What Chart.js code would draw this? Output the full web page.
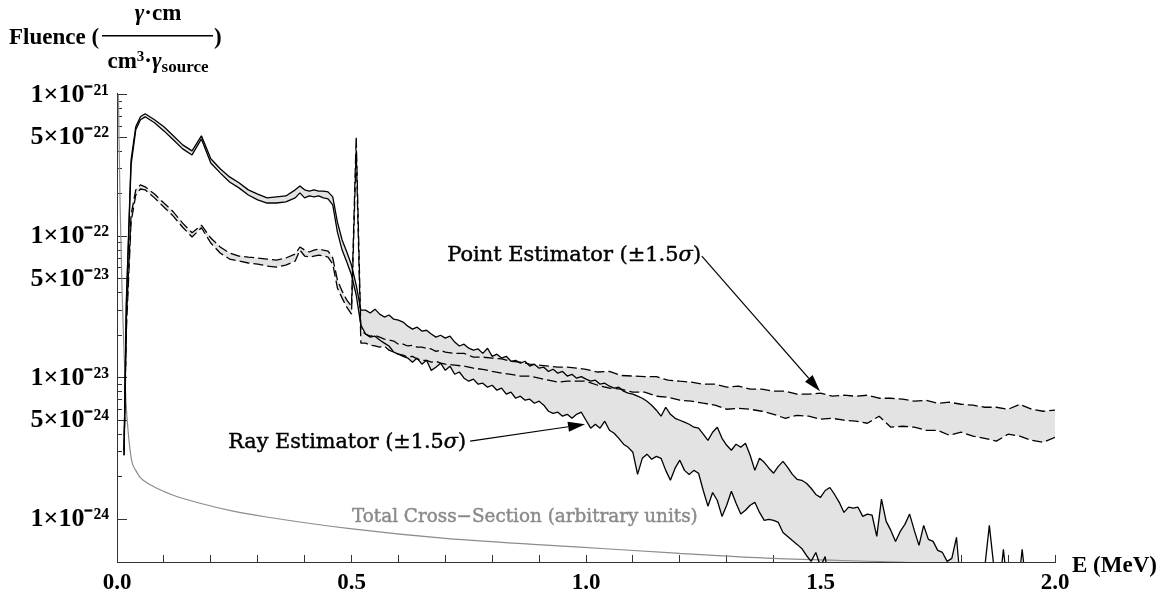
<!DOCTYPE html>
<html>
<head>
<meta charset="utf-8">
<title>Fluence spectrum</title>
<script src="https://cdn.jsdelivr.net/npm/chart.js@4.4.0/dist/chart.umd.min.js"></script>
<style>
  html, body { margin: 0; padding: 0; background: #fff; }
  canvas { display: block; }
</style>
</head>
<body>
<canvas id="chart" width="1169" height="598"></canvas>
<script>
// Photon fluence vs energy: ray and point estimators (±1.5σ bands) plus a scaled
// total cross-section curve. Log y axis, linear x axis.

const X_MIN = 0, X_MAX = 2.0;
const Y_MIN = 5e-25, Y_MAX = 1.03e-21;

// --- Axis ticks ---
const xTickValues = [0, 0.1, 0.2, 0.3, 0.4, 0.5, 0.6, 0.7, 0.8, 0.9, 1.0,
  1.1, 1.2, 1.3, 1.4, 1.5, 1.6, 1.7, 1.8, 1.9, 2.0];
const xTickLabels = ['0.0', '', '', '', '', '0.5', '', '', '', '', '1.0',
  '', '', '', '', '1.5', '', '', '', '', '2.0'];

const yTickValues = [1e-24, 2e-24, 3e-24, 4e-24, 5e-24, 6e-24, 7e-24, 8e-24, 9e-24,
  1e-23, 2e-23, 3e-23, 4e-23, 5e-23, 6e-23, 7e-23, 8e-23, 9e-23,
  1e-22, 2e-22, 3e-22, 4e-22, 5e-22, 6e-22, 7e-22, 8e-22, 9e-22, 1e-21];
const yLabelValues = [1e-24, 5e-24, 1e-23, 5e-23, 1e-22, 5e-22, 1e-21];
const yTickLabels = ['1×10⁻²⁴', '5×10⁻²⁴', '1×10⁻²³', '5×10⁻²³', '1×10⁻²²', '5×10⁻²²', '1×10⁻²¹'];

// --- Ray estimator band (MeV, fluence) ---
const rayE = [0.015, 0.02, 0.03, 0.04, 0.05, 0.06, 0.08, 0.10, 0.12, 0.14, 0.16, 0.18, 0.20,
  0.22, 0.24, 0.26, 0.28, 0.30, 0.32, 0.34, 0.36, 0.38, 0.39,
  0.40, 0.41, 0.42, 0.43, 0.44, 0.45, 0.46, 0.47, 0.48, 0.49,
  0.50, 0.51, 0.52, 0.53, 0.54, 0.55, 0.56, 0.57, 0.58, 0.59,
  0.60, 0.61, 0.62, 0.63, 0.64, 0.65, 0.66, 0.67, 0.68, 0.69,
  0.70, 0.71, 0.72, 0.73, 0.74, 0.75, 0.76, 0.77, 0.78, 0.79,
  0.80, 0.81, 0.82, 0.83, 0.84, 0.85, 0.86, 0.87, 0.88, 0.89,
  0.90, 0.91, 0.92, 0.93, 0.94, 0.95, 0.96, 0.97, 0.98, 0.99,
  1.00, 1.01, 1.02, 1.03, 1.04, 1.05, 1.06, 1.07, 1.08, 1.09,
  1.10, 1.11, 1.12, 1.13, 1.14, 1.15, 1.16, 1.17, 1.18, 1.19,
  1.20, 1.21, 1.22, 1.23, 1.24, 1.25, 1.26, 1.27, 1.28, 1.29,
  1.30, 1.31, 1.32, 1.33, 1.34, 1.35, 1.36, 1.37, 1.38, 1.39,
  1.40, 1.41, 1.42, 1.43, 1.44, 1.45, 1.46, 1.47, 1.48, 1.49,
  1.50, 1.51, 1.52, 1.53, 1.54, 1.55, 1.56, 1.57, 1.58, 1.59,
  1.60, 1.61, 1.62, 1.63, 1.64, 1.65, 1.66, 1.67, 1.68, 1.69,
  1.70, 1.71, 1.72, 1.73, 1.74, 1.75, 1.76, 1.77, 1.78, 1.79,
  1.80, 1.81, 1.82, 1.83, 1.84, 1.85, 1.86, 1.87, 1.88, 1.89,
  1.90, 1.91, 1.92, 1.93, 1.94, 1.95, 1.96, 1.97, 1.98, 1.99, 2.00];

const rayUpper = [3.08e-24, 3.54e-23, 3.47e-22, 5.94e-22, 6.99e-22, 7.34e-22, 6.66e-22, 5.94e-22,
  5.13e-22, 4.43e-22, 4.02e-22, 5.13e-22, 3.53e-22, 3.00e-22, 2.63e-22, 2.39e-22, 2.13e-22,
  1.99e-22, 1.87e-22, 1.90e-22, 1.93e-22, 2.13e-22, 2.27e-22,
  2.13e-22, 2.09e-22, 2.13e-22, 2.09e-22, 2.09e-22, 2.06e-22, 1.90e-22, 1.26e-22, 9.42e-23, 7.75e-23,
  6.27e-23, 4.52e-23, 3.01e-23, 3.01e-23, 2.87e-23, 3.06e-23, 2.82e-23, 2.69e-23, 2.78e-23, 2.60e-23,
  2.56e-23, 2.48e-23, 2.32e-23, 2.21e-23, 2.28e-23, 2.14e-23, 2.17e-23, 2.04e-23, 1.94e-23, 2.00e-23,
  1.91e-23, 1.97e-23, 1.79e-23, 1.68e-23, 1.73e-23, 1.62e-23, 1.57e-23, 1.60e-23, 1.49e-23, 1.62e-23,
  1.42e-23, 1.47e-23, 1.38e-23, 1.42e-23, 1.31e-23, 1.33e-23, 1.27e-23, 1.31e-23, 1.21e-23, 1.25e-23,
  1.17e-23, 1.19e-23, 1.11e-23, 1.15e-23, 1.08e-23, 1.11e-23, 1.03e-23, 1.06e-23, 9.95e-24, 1.02e-23,
  9.79e-24, 9.47e-24, 9.63e-24, 9.02e-24, 9.17e-24, 8.73e-24, 8.45e-24, 8.59e-24, 8.05e-24, 7.79e-24,
  7.67e-24, 7.42e-24, 7.18e-24, 6.84e-24, 6.41e-24, 5.91e-24, 5.36e-24, 6.20e-24, 5.53e-24, 5.18e-24,
  5.02e-24, 4.86e-24, 4.70e-24, 4.48e-24, 4.41e-24, 4.00e-24, 3.62e-24, 4.13e-24, 4.48e-24, 3.74e-24,
  3.34e-24, 3.08e-24, 3.40e-24, 3.23e-24, 3.45e-24, 2.84e-24, 2.22e-24, 2.70e-24, 2.53e-24, 2.30e-24,
  2.12e-24, 2.37e-24, 2.57e-24, 2.33e-24, 2.08e-24, 1.92e-24, 1.89e-24, 1.80e-24, 1.66e-24, 1.50e-24,
  1.43e-24, 1.60e-24, 1.68e-24, 1.50e-24, 1.32e-24, 1.12e-24, 1.22e-24, 1.20e-24, 1.22e-24, 1.05e-24,
  1.09e-24, 1.07e-24, 7.58e-25, 1.39e-24, 9.68e-25, 8.36e-25, 6.99e-25, 8.22e-25, 9.22e-25, 1.09e-24,
  8.36e-25, 6.55e-25, 9.07e-25, 7.22e-25, 6.99e-25, 6.04e-25, 5.84e-25, 5.05e-25, 5.30e-25, 7.46e-25,
  3e-25, 3e-25, 3e-25, 3e-25, 3e-25, 4.5e-25, 9.07e-25, 4.5e-25, 3e-25, 6.14e-25,
  3e-25, 3e-25, 3e-25, 6.14e-25, 3e-25, 3e-25, 3e-25, 3e-25, 3e-25, 3e-25, 3e-25];

const rayLower = [2.84e-24, 3.27e-23, 3.20e-22, 5.66e-22, 6.66e-22, 6.99e-22, 6.34e-22, 5.56e-22,
  4.81e-22, 4.15e-22, 3.76e-22, 4.88e-22, 3.30e-22, 2.81e-22, 2.42e-22, 2.20e-22, 1.96e-22,
  1.81e-22, 1.72e-22, 1.72e-22, 1.75e-22, 1.87e-22, 2.03e-22,
  1.87e-22, 1.93e-22, 1.90e-22, 1.93e-22, 1.87e-22, 1.84e-22, 1.67e-22, 1.07e-22, 8.00e-23, 6.59e-23,
  5.33e-23, 3.85e-23, 2.36e-23, 2.04e-23, 1.94e-23, 1.97e-23, 1.85e-23, 1.76e-23, 1.68e-23, 1.52e-23,
  1.47e-23, 1.42e-23, 1.38e-23, 1.29e-23, 1.38e-23, 1.25e-23, 1.33e-23, 1.13e-23, 1.19e-23, 1.27e-23,
  1.13e-23, 1.21e-23, 1.06e-23, 1.10e-23, 9.95e-24, 9.47e-24, 9.79e-24, 9.02e-24, 9.17e-24, 8.59e-24,
  8.87e-24, 8.18e-24, 8.45e-24, 7.67e-24, 7.92e-24, 7.18e-24, 7.42e-24, 6.95e-24, 7.07e-24, 6.62e-24,
  6.84e-24, 6.41e-24, 5.81e-24, 5.62e-24, 5.72e-24, 5.36e-24, 5.53e-24, 5.18e-24, 5.53e-24, 5.72e-24,
  5.02e-24, 4.41e-24, 4.70e-24, 4.41e-24, 4.94e-24, 4.26e-24, 4.06e-24, 3.74e-24, 3.40e-24, 3.23e-24,
  2.98e-24, 2.08e-24, 2.70e-24, 2.89e-24, 2.66e-24, 2.79e-24, 2.70e-24, 2.22e-24, 1.89e-24, 2.30e-24,
  2.62e-24, 2.22e-24, 2.08e-24, 2.22e-24, 2.12e-24, 1.60e-24, 1.24e-24, 1.55e-24, 1.36e-24, 1.05e-24,
  1.26e-24, 1.58e-24, 1.30e-24, 1.09e-24, 1.16e-24, 1.26e-24, 1.32e-24, 1.12e-24, 9.84e-25, 1.00e-24,
  9.84e-25, 9.52e-25, 8.09e-25, 7.58e-25, 7.10e-25, 6.66e-25, 6.24e-25, 5.56e-25, 5.05e-25, 5.84e-25,
  4.65e-25, 5.47e-25, 3e-25, 3e-25, 3e-25, 3e-25, 3e-25, 3e-25, 3e-25, 3e-25,
  3e-25, 3e-25, 3e-25, 3e-25, 3e-25, 3e-25, 3e-25, 3e-25, 3e-25, 3e-25,
  3e-25, 3e-25, 3e-25, 3e-25, 3e-25, 3e-25, 3e-25, 3e-25, 3e-25, 3e-25,
  null, null, null, null, null, null, null, null, null, null,
  null, null, null, null, null, null, null, null, null, null, null];

// --- Point estimator band ---
const ptE = [0.015, 0.02, 0.03, 0.04, 0.05, 0.06, 0.08, 0.10, 0.12, 0.14, 0.16, 0.18, 0.20,
  0.22, 0.24, 0.26, 0.28, 0.30, 0.32, 0.34, 0.36, 0.38, 0.39,
  0.40, 0.41, 0.42, 0.43, 0.44, 0.45, 0.46, 0.47, 0.48, 0.49,
  0.50, 0.51, 0.52, 0.53, 0.54, 0.55, 0.56, 0.57, 0.58, 0.59,
  0.60, 0.61, 0.62, 0.63, 0.64, 0.65, 0.66, 0.67, 0.68, 0.69,
  0.70, 0.72, 0.74, 0.76, 0.78, 0.80, 0.82, 0.84, 0.86, 0.88,
  0.90, 0.92, 0.94, 0.96, 0.98, 1.00, 1.025, 1.05, 1.075, 1.10,
  1.125, 1.15, 1.175, 1.20, 1.225, 1.25, 1.275, 1.30, 1.325, 1.35,
  1.375, 1.40, 1.425, 1.45, 1.475, 1.50, 1.525, 1.55, 1.575, 1.60,
  1.625, 1.65, 1.675, 1.70, 1.725, 1.75, 1.775, 1.80, 1.825, 1.85,
  1.875, 1.90, 1.925, 1.95, 1.975, 2.00];

const ptUpper = [3.08e-24, 2.56e-23, 1.42e-22, 2.13e-22, 2.31e-22, 2.24e-22, 1.99e-22, 1.72e-22,
  1.49e-22, 1.24e-22, 1.06e-22, 1.20e-22, 9.73e-23, 8.41e-23, 7.62e-23, 7.26e-23, 7.14e-23,
  7.03e-23, 6.91e-23, 6.80e-23, 7.03e-23, 7.50e-23, 8.41e-23,
  8.00e-23, 7.75e-23, 8.00e-23, 8.14e-23, 8.00e-23, 7.87e-23, 7.03e-23, 4.91e-23, 4.10e-23, 3.54e-23,
  3.21e-23, 5.05e-22, 2.17e-23, 2.04e-23, 1.97e-23, 2.00e-23, 1.94e-23, 1.88e-23, 1.85e-23, 1.82e-23,
  1.73e-23, 1.73e-23, 1.68e-23, 1.70e-23, 1.65e-23, 1.65e-23, 1.62e-23, 1.60e-23, 1.54e-23, 1.57e-23,
  1.52e-23, 1.49e-23, 1.49e-23, 1.40e-23, 1.40e-23, 1.38e-23, 1.36e-23, 1.31e-23, 1.29e-23, 1.25e-23,
  1.23e-23, 1.21e-23, 1.19e-23, 1.19e-23, 1.17e-23, 1.15e-23, 1.10e-23, 1.11e-23, 1.04e-23, 1.03e-23,
  1.02e-23, 1.02e-23, 9.63e-24, 9.47e-24, 9.32e-24, 9.02e-24, 9.02e-24, 8.59e-24, 8.73e-24, 8.32e-24,
  8.32e-24, 8.05e-24, 8.05e-24, 7.67e-24, 7.67e-24, 7.79e-24, 7.42e-24, 7.54e-24, 7.42e-24, 7.54e-24,
  7.18e-24, 7.18e-24, 7.07e-24, 6.84e-24, 6.95e-24, 6.62e-24, 6.73e-24, 6.51e-24, 6.41e-24, 6.20e-24,
  6.20e-24, 6.00e-24, 6.51e-24, 6.00e-24, 5.81e-24, 5.91e-24];

const ptLower = [2.84e-24, 2.17e-23, 1.26e-22, 1.96e-22, 2.16e-22, 2.13e-22, 1.87e-22, 1.61e-22,
  1.39e-22, 1.16e-22, 9.89e-23, 1.15e-22, 8.97e-23, 7.62e-23, 6.91e-23, 6.69e-23, 6.48e-23,
  6.37e-23, 6.17e-23, 6.07e-23, 6.27e-23, 6.69e-23, 8.00e-23,
  7.26e-23, 7.14e-23, 7.26e-23, 7.38e-23, 7.26e-23, 7.14e-23, 6.37e-23, 4.31e-23, 3.66e-23, 3.16e-23,
  2.82e-23, 4.08e-22, 1.76e-23, 1.76e-23, 1.70e-23, 1.68e-23, 1.65e-23, 1.68e-23, 1.57e-23, 1.52e-23,
  1.47e-23, 1.45e-23, 1.40e-23, 1.42e-23, 1.36e-23, 1.33e-23, 1.33e-23, 1.29e-23, 1.31e-23, 1.27e-23,
  1.25e-23, 1.23e-23, 1.21e-23, 1.17e-23, 1.15e-23, 1.11e-23, 1.08e-23, 1.06e-23, 1.03e-23, 1.03e-23,
  9.95e-24, 9.63e-24, 9.32e-24, 9.47e-24, 9.47e-24, 9.47e-24, 8.87e-24, 8.45e-24, 8.32e-24, 7.92e-24,
  7.92e-24, 7.42e-24, 7.30e-24, 6.95e-24, 6.84e-24, 6.62e-24, 6.41e-24, 6.00e-24, 6.10e-24, 6.00e-24,
  5.81e-24, 5.53e-24, 5.18e-24, 5.44e-24, 5.36e-24, 5.10e-24, 5.18e-24, 5.02e-24, 4.94e-24, 4.78e-24,
  5.36e-24, 4.48e-24, 4.55e-24, 4.48e-24, 4.26e-24, 4.26e-24, 3.93e-24, 4.13e-24, 3.87e-24, 3.74e-24,
  3.57e-24, 4.00e-24, 3.87e-24, 3.62e-24, 3.51e-24, 3.80e-24];

// --- Total cross-section (arbitrary units) ---
const csE = [0.003, 0.0064, 0.0107, 0.0149, 0.019, 0.0235, 0.031, 0.04, 0.049, 0.06, 0.085,
  0.12, 0.177, 0.25, 0.319, 0.497, 0.7, 0.987, 1.2, 1.399, 1.663, 2.0];
const csValue = [1.0e-21, 1.81e-22, 4.17e-23, 1.57e-23, 6.95e-24, 4.26e-24, 2.62e-24, 2.22e-24,
  1.99e-24, 1.85e-24, 1.66e-24, 1.48e-24, 1.30e-24, 1.14e-24, 1.04e-24, 8.6e-25, 7.34e-25,
  6.37e-25, 5.75e-25, 5.30e-25, 5.0e-25, 4.5e-25];

// --- Styling ---
const SERIF = '"Liberation Serif", "Times New Roman", serif';
const NOTE_SERIF = '"DejaVu Serif", serif';
const AXIS_COLOR = '#333';
const BAND_GRAY = '#e3e3e3';

const pairs = (xs, ys) => xs.map((x, i) => ({ x, y: ys[i] }));
const isYMajor = v => yLabelValues.some(l => Math.abs(v / l - 1) < 1e-6);
function yLabelFor(v) {
  const i = yLabelValues.findIndex(l => Math.abs(v / l - 1) < 1e-6);
  return i >= 0 ? yTickLabels[i] : '';
}

// --- Annotations (anchored in data coordinates, fitted to a pixel width) ---
const notes = [
  { text: 'Point Estimator (±1.5', sigma: true, e: 0.704, f: 7.26e-23, width: 254, color: '#000' },
  { text: 'Ray Estimator (±1.5', sigma: true, e: 0.237, f: 3.51e-24, width: 238, color: '#000' },
  { text: 'Total Cross\u2212Section (arbitrary units)', sigma: false, e: 0.501, f: 1.03e-24, width: 346, color: '#8a8a8a' },
];
const arrows = [
  { from: [1.247, 7.26e-23], to: [1.499, 8.05e-24] },
  { from: [0.753, 3.57e-24], to: [0.998, 4.70e-24] },
];

function drawRuns(ctx, runs, x, y, stroke) {
  for (const [t, font, dy] of runs) {
    ctx.font = font;
    ctx.fillText(t, x, y + (dy || 0));
    if (stroke) ctx.strokeText(t, x, y + (dy || 0));
    x += ctx.measureText(t).width;
  }
  return x;
}
function runsWidth(ctx, runs) {
  let w = 0;
  for (const [t, font] of runs) { ctx.font = font; w += ctx.measureText(t).width; }
  return w;
}
function noteRuns(n, size) {
  const f = size + 'px ' + NOTE_SERIF;
  const runs = [[n.text, f]];
  if (n.sigma) runs.push(['σ', 'italic ' + f], [')', f]);
  return runs;
}

const overlay = {
  id: 'overlay',
  afterDraw(chart) {
    const { ctx } = chart;
    const x = chart.scales.x, y = chart.scales.y;
    ctx.save();
    ctx.fillStyle = '#000';
    ctx.textBaseline = 'alphabetic';

    // y-axis title with fraction
    const B = 'bold 23px ' + SERIF, BI = 'italic bold 23px ' + SERIF;
    const SUP = 'bold 15px ' + SERIF, SUB = 'bold 17px ' + SERIF;
    drawRuns(ctx, [['Fluence (', B]], 9, 44);
    const num = [['γ', BI], ['·', B], ['cm', B]];
    const den = [['cm', B], ['3', SUP, -7], ['·', B], ['γ', BI], ['source', SUB, 4]];
    const cx = 158;
    drawRuns(ctx, num, cx - runsWidth(ctx, num) / 2, 20);
    drawRuns(ctx, den, cx - runsWidth(ctx, den) / 2, 68);
    ctx.fillRect(102, 35, 111, 1.5);
    drawRuns(ctx, [[')', B]], 214, 44);

    // x-axis title
    ctx.textBaseline = 'middle';
    drawRuns(ctx, [['E (MeV)', 'bold 23px ' + SERIF]], 1072, 566);

    // notes (a hairline stroke gives the heavier look of the original face)
    const probe = 20;
    ctx.lineWidth = 0.45;
    for (const n of notes) {
      const size = probe * n.width / runsWidth(ctx, noteRuns(n, probe));
      ctx.fillStyle = n.color;
      ctx.strokeStyle = n.color;
      drawRuns(ctx, noteRuns(n, size), x.getPixelForValue(n.e), y.getPixelForValue(n.f), true);
    }

    // arrows
    ctx.strokeStyle = '#000';
    ctx.fillStyle = '#000';
    ctx.lineWidth = 1.2;
    for (const a of arrows) {
      const x0 = x.getPixelForValue(a.from[0]), y0 = y.getPixelForValue(a.from[1]);
      const x1 = x.getPixelForValue(a.to[0]), y1 = y.getPixelForValue(a.to[1]);
      const ang = Math.atan2(y1 - y0, x1 - x0);
      const L = 17, W = 5;
      const bx = x1 - L * Math.cos(ang), by = y1 - L * Math.sin(ang);
      ctx.beginPath();
      ctx.moveTo(x0, y0);
      ctx.lineTo(bx, by);
      ctx.stroke();
      ctx.beginPath();
      ctx.moveTo(x1, y1);
      ctx.lineTo(bx + W * Math.sin(ang), by - W * Math.cos(ang));
      ctx.lineTo(bx - W * Math.sin(ang), by + W * Math.cos(ang));
      ctx.closePath();
      ctx.fill();
    }
    ctx.restore();
  }
};

Chart.defaults.font.family = SERIF;
Chart.defaults.color = '#000';

const lineBase = { pointRadius: 0, borderWidth: 1.3, borderJoinStyle: 'bevel', tension: 0 };

new Chart(document.getElementById('chart'), {
  type: 'line',
  data: {
    datasets: [
      { ...lineBase, label: 'Ray upper', data: pairs(rayE, rayUpper), borderColor: '#000', fill: false },
      { ...lineBase, label: 'Ray lower', data: pairs(rayE, rayLower), borderColor: '#000',
        fill: '-1', backgroundColor: BAND_GRAY },
      { ...lineBase, label: 'Point upper', data: pairs(ptE, ptUpper), borderColor: '#000',
        borderDash: [10, 4], fill: false },
      { ...lineBase, label: 'Point lower', data: pairs(ptE, ptLower), borderColor: '#000',
        borderDash: [10, 4], fill: '-1', backgroundColor: BAND_GRAY },
      { ...lineBase, label: 'Total cross-section', data: pairs(csE, csValue), borderColor: '#8c8c8c',
        borderWidth: 1.2, cubicInterpolationMode: 'monotone', fill: false },
    ],
  },
  options: {
    responsive: false,
    animation: false,
    layout: { padding: { left: 0, right: 114, top: 93, bottom: 0 } },
    plugins: {
      legend: { display: false },
      tooltip: { enabled: false },
      filler: { propagate: false, drawTime: 'beforeDatasetsDraw' },
    },
    scales: {
      x: {
        type: 'linear',
        min: X_MIN,
        max: X_MAX,
        afterFit: s => { s.height = 36; },
        afterBuildTicks: s => { s.ticks = xTickValues.map(v => ({ value: v })); },
        border: { color: AXIS_COLOR, width: 1 },
        grid: { drawOnChartArea: false, tickLength: -7, tickColor: AXIS_COLOR, tickWidth: 1 },
        ticks: {
          autoSkip: false, maxRotation: 0, padding: 14, color: '#000',
          font: { size: 23, weight: 'bold' },
          callback: (v, i) => xTickLabels[i],
        },
      },
      y: {
        type: 'logarithmic',
        min: Y_MIN,
        max: Y_MAX,
        afterFit: s => { s.width = 117; },
        afterBuildTicks: s => { s.ticks = yTickValues.map(v => ({ value: v })); },
        border: { color: AXIS_COLOR, width: 1 },
        grid: {
          drawOnChartArea: false,
          tickLength: -10,
          tickColor: AXIS_COLOR,
          tickWidth: 1,
          tickBorderDash: c => (c.tick && isYMajor(c.tick.value)) ? [] : [5, 5],
          tickBorderDashOffset: c => (c.tick && isYMajor(c.tick.value)) ? 0 : 5,
        },
        ticks: {
          autoSkip: false, padding: 18, color: '#000',
          font: { size: 26, weight: 'bold' },
          callback: v => yLabelFor(v),
        },
      },
    },
  },
  plugins: [overlay],
});
</script>
</body>
</html>
